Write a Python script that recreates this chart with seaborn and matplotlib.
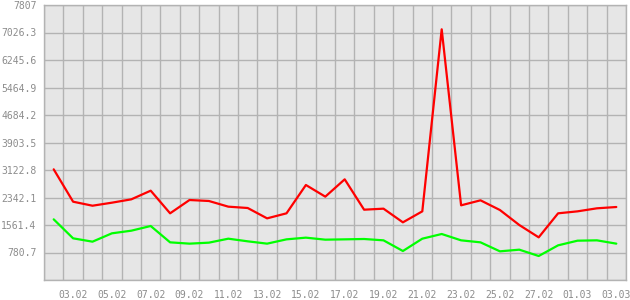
import matplotlib
matplotlib.use("Agg")
import matplotlib.pyplot as plt
import seaborn as sns
import pandas as pd
import numpy as np

dates = ["02.02", "03.02", "04.02", "05.02", "06.02", "07.02", "08.02", "09.02", "10.02", "11.02",
         "12.02", "13.02", "14.02", "15.02", "16.02", "17.02", "18.02", "19.02", "20.02", "21.02",
         "22.02", "23.02", "24.02", "25.02", "26.02", "27.02", "28.02", "01.03", "02.03", "03.03"]
red_values = [3142, 2223, 2109, 2195, 2290, 2536, 1893, 2271, 2243, 2082,
              2044, 1750, 1893, 2697, 2366, 2858, 1996, 2025, 1637, 1949,
              7117, 2120, 2262, 1987, 1561, 1211, 1893, 1949, 2035, 2072]
green_values = [1722, 1183, 1088, 1325, 1400, 1533, 1069, 1032, 1060, 1173,
                1098, 1032, 1154, 1202, 1145, 1154, 1164, 1126, 823, 1173,
                1306, 1126, 1069, 814, 861, 681, 984, 1116, 1126, 1032]
y_ticks = [0, 780.7, 1561.4, 2342.1, 3122.8, 3903.5, 4684.2, 5464.9, 6245.6, 7026.3, 7807]
y_tick_labels = ["", "780.7", "1561.4", "2342.1", "3122.8", "3903.5", "4684.2", "5464.9", "6245.6", "7026.3", "7807"]

n = len(dates)
df = pd.DataFrame({
    "idx": list(range(n)) * 2,
    "value": red_values + green_values,
    "series": ["red"] * n + ["green"] * n,
})

sns.set_style("white")
plt.rcParams['font.family'] = ['DejaVu Sans Mono', 'DejaVu Sans']

fig = plt.figure(figsize=(6.3, 3.0), dpi=100)
ax = fig.add_axes([44 / 630, 20 / 300, 582 / 630, 275 / 300])
ax.set_facecolor("#e6e6e6")

sns.lineplot(data=df, x="idx", y="value", hue="series",
             palette={"red": "#ff0000", "green": "#00ff00"},
             linewidth=1.6, legend=False, ax=ax, zorder=3)

ax.set_xlim(-0.5, n - 0.5)
ax.set_ylim(0, 7807)

# grid: vertical lines at day boundaries, horizontal at y ticks
for b in np.arange(-0.5, n, 1.0):
    ax.axvline(b, color="#b3b3b3", lw=1.0, zorder=1)
for t in y_ticks:
    ax.axhline(t, color="#b3b3b3", lw=1.0, zorder=1)

ax.set_yticks(y_ticks)
ax.set_yticklabels(y_tick_labels)
label_idx = list(range(1, n, 2))
ax.set_xticks(label_idx)
ax.set_xticklabels([dates[i] for i in label_idx])

ax.tick_params(axis="both", colors="#999999", labelcolor="#8c8c8c", labelsize=7,
               length=3.5, width=1)
ax.tick_params(axis="y", pad=2)
ax.tick_params(axis="x", pad=4)
ax.set_xlabel("")
ax.set_ylabel("")
for s in ax.spines.values():
    s.set_color("#b3b3b3")
    s.set_linewidth(1.0)

fig.savefig("out.png", dpi=100)
